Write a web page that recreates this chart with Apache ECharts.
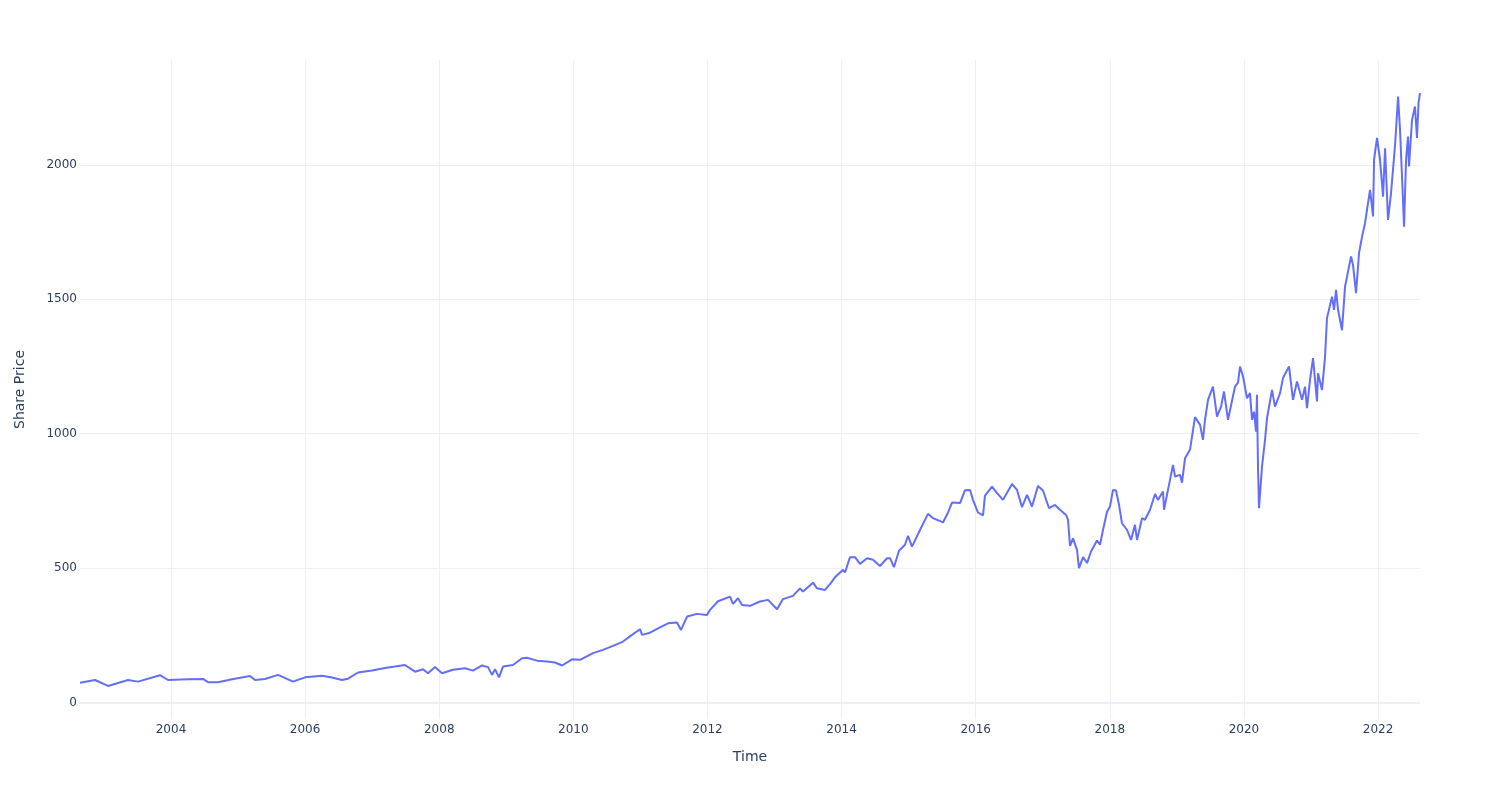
<!DOCTYPE html>
<html>
<head>
<meta charset="utf-8">
<script src="https://cdn.jsdelivr.net/npm/echarts@6/dist/echarts.min.js"></script>
<style>
html,body{margin:0;padding:0;background:#fff;}
#chart{width:1500px;height:800px;}
</style>
</head>
<body>
<div id="chart"></div>
<script>
// Time expressed in decimal years
const years = [
2002.643,2002.867,2003.061,2003.359,2003.508,2003.836,2003.955,2004.254,2004.477,2004.552,
2004.701,2004.910,2005.178,2005.253,2005.402,2005.596,2005.819,2005.998,2006.252,2006.401,
2006.550,2006.639,2006.789,2006.997,2007.191,2007.340,2007.489,2007.639,2007.758,2007.832,
2007.937,2008.041,2008.205,2008.384,2008.503,2008.638,2008.727,2008.787,2008.832,2008.891,
2008.951,2009.100,2009.234,2009.309,2009.458,2009.607,2009.726,2009.831,2009.980,2010.099,
2010.293,2010.442,2010.591,2010.740,2010.874,2010.994,2011.024,2011.143,2011.292,2011.411,
2011.545,2011.605,2011.695,2011.844,2011.993,2012.038,2012.157,2012.336,2012.381,2012.455,
2012.515,2012.634,2012.783,2012.903,2013.037,2013.126,2013.275,2013.380,2013.424,2013.574,
2013.633,2013.753,2013.827,2013.902,2014.021,2014.051,2014.125,2014.200,2014.274,2014.379,
2014.468,2014.573,2014.677,2014.722,2014.781,2014.856,2014.945,2014.990,2015.050,2015.169,
2015.288,2015.363,2015.512,2015.587,2015.646,2015.766,2015.840,2015.915,2015.959,2016.034,
2016.109,2016.138,2016.243,2016.318,2016.407,2016.541,2016.616,2016.690,2016.765,2016.839,
2016.929,2017.003,2017.093,2017.182,2017.257,2017.346,2017.376,2017.406,2017.451,2017.510,
2017.540,2017.600,2017.660,2017.719,2017.809,2017.853,2017.898,2017.958,2018.002,2018.047,
2018.092,2018.137,2018.181,2018.256,2018.316,2018.375,2018.405,2018.480,2018.524,2018.599,
2018.674,2018.718,2018.793,2018.808,2018.867,2018.942,2018.972,2019.046,2019.076,2019.121,
2019.195,2019.270,2019.345,2019.389,2019.419,2019.464,2019.538,2019.598,2019.658,2019.702,
2019.762,2019.866,2019.911,2019.941,2019.986,2020.045,2020.090,2020.120,2020.150,2020.180,
2020.194,2020.209,2020.224,2020.269,2020.314,2020.344,2020.388,2020.418,2020.463,2020.538,
2020.582,2020.672,2020.731,2020.791,2020.866,2020.910,2020.940,2020.985,2021.030,2021.089,
2021.104,2021.164,2021.209,2021.238,2021.313,2021.343,2021.373,2021.403,2021.462,2021.507,
2021.552,2021.597,2021.626,2021.671,2021.716,2021.761,2021.805,2021.835,2021.880,2021.925,
2021.940,2021.984,2022.029,2022.074,2022.104,2022.148,2022.193,2022.253,2022.298,2022.327,
2022.357,2022.387,2022.417,2022.446,2022.461,2022.506,2022.550,2022.580,2022.603,2022.625
];
const prices = [
74,84,62,84,78,102,84,87,88,76,
76,87,99,84,88,103,78,94,100,93,
84,89,112,119,129,134,140,115,124,109,
132,109,122,128,119,138,132,103,124,94,
134,140,165,167,156,153,149,138,161,159,
184,196,211,227,252,273,252,260,280,295,
298,270,320,330,326,345,377,394,367,388,
363,360,376,382,347,385,397,425,413,446,
425,419,441,466,494,484,541,541,516,537,
531,508,537,537,504,565,587,620,580,642,
702,686,670,707,744,742,790,791,754,707,
696,770,803,779,754,813,791,727,773,729,
806,789,723,735,717,698,680,583,611,568,
500,541,519,562,603,587,642,710,729,791,
789,735,667,642,605,661,605,686,680,717,
776,754,785,717,791,884,841,847,818,909,
940,1062,1033,977,1052,1126,1175,1064,1101,1157,
1052,1175,1190,1250,1213,1132,1151,1052,1082,1008,
1145,878,723,878,977,1058,1120,1163,1101,1151,
1207,1250,1126,1194,1126,1175,1095,1200,1281,1120,
1225,1163,1287,1430,1510,1461,1535,1461,1385,1547,
1603,1659,1628,1523,1672,1733,1783,1833,1907,1808,
2019,2100,2019,1882,2062,1795,1895,2074,2254,2130,
1956,1770,2019,2105,1994,2167,2217,2100,2230,2267
];
const xTickYears = [2004,2006,2008,2010,2012,2014,2016,2018,2020,2022];
const yTickValues = [0,500,1000,1500,2000];
const xTitle = 'Time';
const yTitle = 'Share Price';

const seriesData = years.map((y, i) => [y, prices[i]]);
const FONT = 'DejaVu Sans';
const TXT = '#2a3f5f';
const GRID = '#EBF0F8';

const chart = echarts.init(document.getElementById('chart'), null, {renderer: 'canvas'});
chart.setOption({
  backgroundColor: '#ffffff',
  animation: false,
  grid: {left: 80, right: 80, top: 60, bottom: 81, containLabel: false},
  xAxis: {
    type: 'value',
    min: years[0],
    max: years[years.length - 1],
    name: xTitle,
    nameLocation: 'middle',
    nameGap: 31,
    nameTextStyle: {fontFamily: FONT, fontSize: 14, color: TXT},
    axisLine: {show: false},
    axisTick: {show: false, customValues: xTickYears},
    axisLabel: {
      customValues: xTickYears,
      margin: 5,
      fontFamily: FONT, fontSize: 12, color: TXT,
      formatter: v => String(Math.round(v))
    },
    splitLine: {show: true, lineStyle: {color: GRID, width: 1}}
  },
  yAxis: {
    type: 'value',
    min: -61,
    max: 2390,
    name: yTitle,
    nameLocation: 'middle',
    nameGap: 53,
    nameTextStyle: {fontFamily: FONT, fontSize: 14, color: TXT},
    axisLine: {show: false},
    axisTick: {show: false, customValues: yTickValues},
    axisLabel: {
      customValues: yTickValues,
      margin: 3,
      fontFamily: FONT, fontSize: 12, color: TXT,
      formatter: v => String(Math.round(v))
    },
    splitLine: {show: true, lineStyle: {color: GRID, width: 1}}
  },
  series: [{
    type: 'line',
    data: seriesData,
    showSymbol: false,
    smooth: false,
    lineStyle: {color: '#636efa', width: 2},
    itemStyle: {color: '#636efa'},
    z: 3,
    markLine: {
      silent: true,
      symbol: ['none', 'none'],
      label: {show: false},
      lineStyle: {color: GRID, width: 2, type: 'solid'},
      data: [{yAxis: 0}],
      z: 1
    }
  }]
});
</script>
</body>
</html>
